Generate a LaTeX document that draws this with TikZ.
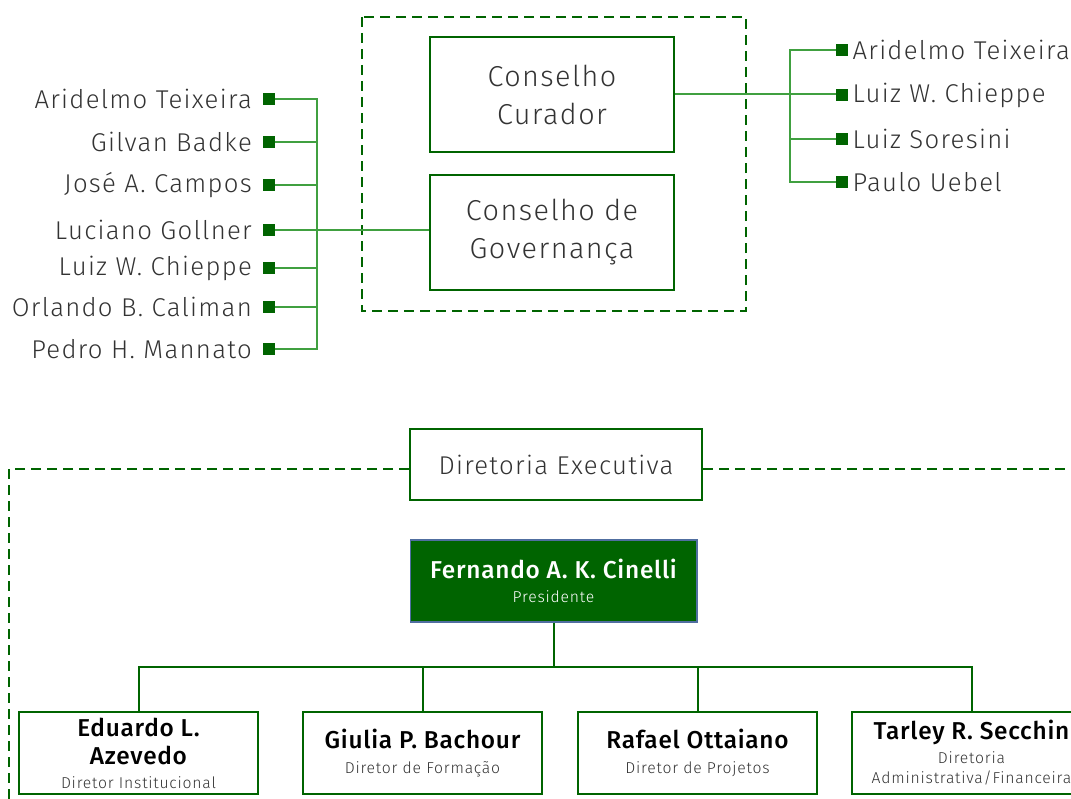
\documentclass[tikz,border=0pt]{standalone}
\usepackage{fontspec}
\setmainfont{Fira Sans Light}[BoldFont={Fira Sans Medium},LetterSpace=5,BoldFeatures={LetterSpace=3}]
\usetikzlibrary{positioning}
\definecolor{dkgreen}{RGB}{0,100,0}
\definecolor{lngreen}{RGB}{64,160,64}
\definecolor{txtgray}{RGB}{51,51,51}
\definecolor{presedge}{RGB}{80,110,160}
\tikzset{
  bullet/.style={fill=dkgreen,minimum size=9pt,inner sep=0pt},
  member/.style={text=txtgray,font=\fontsize{19.3}{22}\selectfont,inner sep=0pt},
  link/.style={draw=lngreen,line width=1.5pt},
  council/.style={draw=dkgreen,line width=1.8pt,minimum width=183pt,minimum height=86pt,align=center,text=txtgray,font=\fontsize{21.6}{28.5}\selectfont},
  groupbox/.style={draw=dkgreen,line width=1.8pt,dash pattern=on 7.5pt off 4.5pt},
  board/.style={draw=dkgreen,line width=1.5pt,minimum width=219pt,minimum height=53pt,text=txtgray,font=\fontsize{19.3}{22}\selectfont},
  pres/.style={draw=presedge,fill=dkgreen,line width=1pt,minimum width=215pt,minimum height=61.5pt,align=center,text=white,font=\fontsize{11.8}{15}\selectfont},
  director/.style={draw=dkgreen,line width=1.5pt,minimum width=179pt,minimum height=61.5pt,align=center,text=txtgray,font=\fontsize{11.8}{15}\selectfont},
  tree/.style={draw=dkgreen,line width=1.5pt}
}
\newcommand{\nm}{\fontsize{18.3}{15}\selectfont\bfseries}
\newcommand{\dnm}{\nm\color{black}}
\begin{document}
\begin{tikzpicture}[x=0.75pt,y=-0.75pt]
\useasboundingbox (0,0) rectangle (1071,799);
\clip (0,0) rectangle (1071,799);

\draw[groupbox] (362,17) rectangle (746,311);
\node[council] (cur) at (552,94.5) {Conselho\\Curador};
\node[council] (gov) at (552,232.5) {Conselho de\\Governança};

\node[bullet] (l1) at (269,99) {};
\node[bullet] (l2) at (269,142) {};
\node[bullet] (l3) at (269,185) {};
\node[bullet] (l4) at (269,230) {};
\node[bullet] (l5) at (269,268) {};
\node[bullet] (l6) at (269,307) {};
\node[bullet] (l7) at (269,349) {};
\node[member,left=8pt of l1] (t1) {Aridelmo Teixeira};
\node[member,left=8pt of l2] (t2) {Gilvan Badke};
\node[member,left=8pt of l3] (t3) {José A. Campos};
\node[member,left=8pt of l4] (t4) {Luciano Gollner};
\node[member,left=8pt of l5] (t5) {Luiz W. Chieppe};
\node[member,left=8pt of l6] (t6) {Orlando B. Caliman};
\node[member,left=8pt of l7] (t7) {Pedro H. Mannato};
\coordinate (lbus) at (317,99);
\draw[link] (l1) -- (l1 -| lbus) -- (l7 -| lbus) -- (l7);
\draw[link] (l2) -- (l2 -| lbus);
\draw[link] (l3) -- (l3 -| lbus);
\draw[link] (l4) -- (l4 -| gov.west);
\draw[link] (l5) -- (l5 -| lbus);
\draw[link] (l6) -- (l6 -| lbus);

\node[bullet] (r1) at (842,50) {};
\node[bullet] (r2) at (842,95) {};
\node[bullet] (r3) at (842,139) {};
\node[bullet] (r4) at (842,182) {};
\node[member,right=3pt of r1] (s1) {Aridelmo Teixeira};
\node[member,right=3pt of r2] (s2) {Luiz W. Chieppe};
\node[member,right=3pt of r3] (s3) {Luiz Soresini};
\node[member,right=3pt of r4] (s4) {Paulo Uebel};
\coordinate (rbus) at (790,50);
\draw[link] (r1) -- (r1 -| rbus) -- (r4 -| rbus) -- (r4);
\draw[link] (cur.east) -- (cur.east -| r2.west);
\draw[link] (r3) -- (r3 -| rbus);

\node[board] (dir) at (556,464.5) {Diretoria Executiva};
\coordinate (dl) at (9,469);
\coordinate (dr) at (1080,469);
\draw[groupbox] (dir.west |- dl) -- (dl) -- (9,810);
\draw[groupbox] (dir.east |- dr) -- (dr);

\node[pres] (fer) at (553.5,581) {\nm Fernando A. K. Cinelli\\[3pt]Presidente};
\node[director] (edu) at (138.5,753) {\dnm Eduardo L.\\[6pt]\dnm Azevedo\\[3pt]Diretor Institucional};
\node[director] (giu) at (422.5,753) {\dnm Giulia P. Bachour\\[3.5pt]Diretor de Formação};
\node[director] (raf) at (697.5,753) {\dnm Rafael Ottaiano\\[3.5pt]Diretor de Projetos};
\node[director] (tar) at (971.5,753) {\dnm Tarley R. Secchin\\[3pt]Diretoria\\Administrativa/Financeira};
\coordinate (split) at (554,667);
\draw[tree] (fer.south) -- (fer.south |- split);
\draw[tree] (edu.north) |- (split) -| (tar.north);
\draw[tree] (giu.north) -- (giu.north |- split);
\draw[tree] (raf.north) -- (raf.north |- split);
\end{tikzpicture}
\end{document}
